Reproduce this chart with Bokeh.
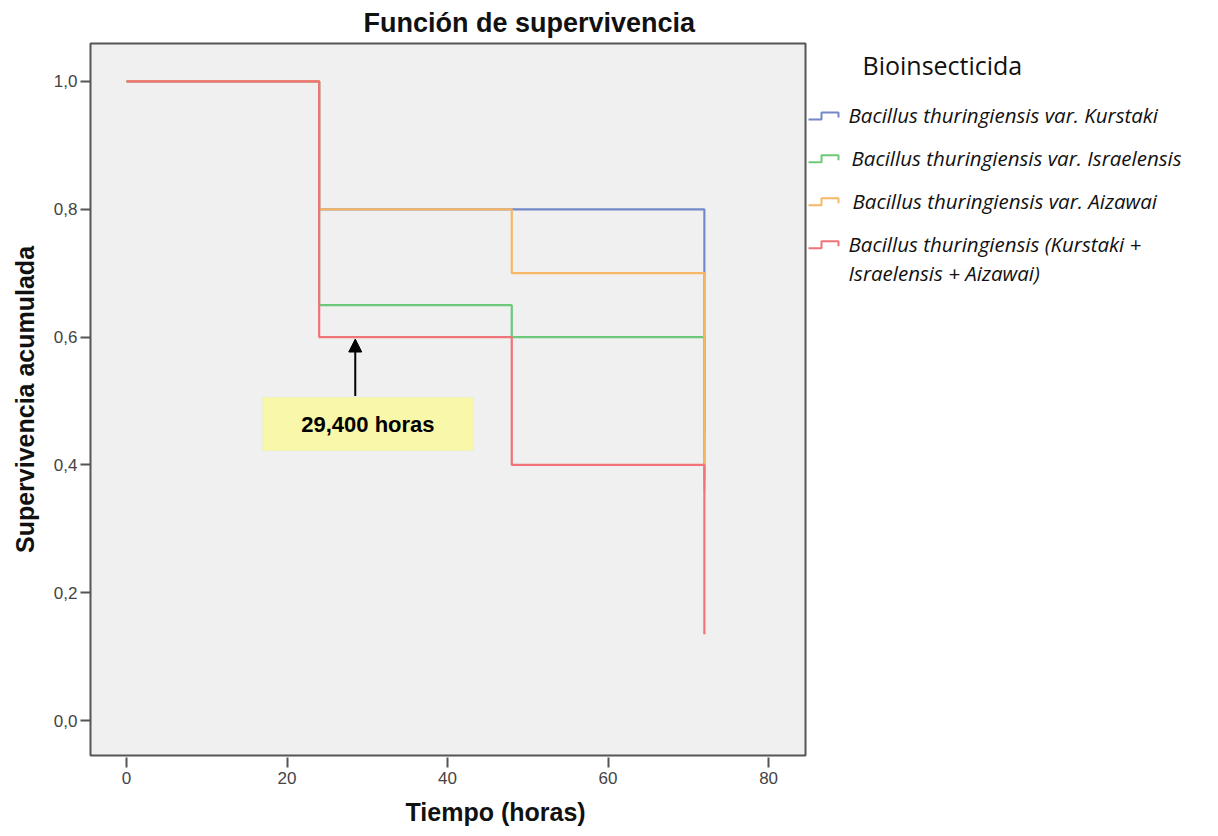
from bokeh.plotting import figure
from bokeh.models import (FixedTicker, Label, Arrow, NormalHead, BoxAnnotation, Range1d, Title)
from bokeh.layouts import row
from bokeh.core.properties import value
from bokeh.embed import file_html
from bokeh.resources import INLINE

# ---- data ----
tiempo = [0, 24, 48, 72]
kurstaki = [1.0, 0.8, 0.8, 0.375]
israelensis = [1.0, 0.65, 0.6, 0.45]
aizawai = [1.0, 0.8, 0.7, 0.36]
combinado = [1.0, 0.6, 0.4, 0.135]

series_names = [
    "Bacillus thuringiensis var. Kurstaki",
    "Bacillus thuringiensis var. Israelensis",
    "Bacillus thuringiensis var. Aizawai",
    "Bacillus thuringiensis (Kurstaki +",
]
series_name_cont = "Israelensis + Aizawai)"
series_values = [kurstaki, israelensis, aizawai, combinado]
series_colors = ["#7388c9", "#6cc97a", "#f6b866", "#ef7378"]
legend_title = "Bioinsecticida"

x_ticks = [0, 20, 40, 60, 80]
y_ticks = [0.0, 0.2, 0.4, 0.6, 0.8, 1.0]
y_tick_labels = ["0,0", "0,2", "0,4", "0,6", "0,8", "1,0"]

media_texto = "29,400 horas"
media_x = 28.5
flecha_y0, flecha_y1 = 0.508, 0.597
caja = dict(left=16.95, right=43.2, bottom=0.422, top=0.506)

# ---- main figure ----
p = figure(width=808, height=836, output_backend="svg", toolbar_location=None,
           x_range=Range1d(-4.49, 84.6), y_range=Range1d(-0.0547, 1.0594),
           min_border_left=90, min_border_right=3, min_border_top=42,
           min_border_bottom=81, title="Función de supervivencia")
p.background_fill_color = "#f0f0f0"
p.border_fill_color = "white"
p.outline_line_color = "#555555"
p.outline_line_width = 2
p.grid.visible = False

p.title.align = "left"
p.title.offset = 273
p.title.text_font = "Liberation Sans"
p.title.text_font_size = "27px"
p.title.text_font_style = "bold"
p.title.text_color = "#111111"
p.title.standoff = 11

xa = p.xaxis[0]
xa.ticker = FixedTicker(ticks=x_ticks)
xa.axis_line_color = None
xa.major_tick_in = -2
xa.major_tick_out = 12
xa.major_tick_line_width = 2
xa.major_tick_line_color = "#555555"
xa.minor_tick_line_color = None
xa.major_label_standoff = 4
xa.major_label_text_font = "Liberation Sans"
xa.major_label_text_font_size = "17px"
xa.major_label_text_color = "#444444"

ya = p.yaxis[0]
ya.ticker = FixedTicker(ticks=y_ticks)
ya.major_label_overrides = {t: l for t, l in zip(y_ticks, y_tick_labels)}
ya.axis_line_color = None
ya.major_tick_in = 0
ya.major_tick_out = 10
ya.major_tick_line_width = 2
ya.major_tick_line_color = "#555555"
ya.minor_tick_line_color = None
ya.major_label_standoff = 3
ya.major_label_text_font = "Liberation Sans"
ya.major_label_text_font_size = "17px"
ya.major_label_text_color = "#444444"
ya.axis_label = "Supervivencia acumulada"
ya.axis_label_text_font = "Liberation Sans"
ya.axis_label_text_font_size = "25px"
ya.axis_label_text_font_style = "bold"
ya.axis_label_text_color = "#111111"
ya.axis_label_standoff = 12

p.add_layout(Title(text="Tiempo (horas)", align="left", offset=315,
                   text_font="Liberation Sans", text_font_size="25px",
                   text_font_style="bold", text_color="#111111", standoff=18), "below")

for vals, col in zip(series_values, series_colors):
    p.step(tiempo, vals, mode="after", line_color=col, line_width=2.2)

p.add_layout(BoxAnnotation(fill_color="#f9f7a9", fill_alpha=1.0,
                           line_color="#e4e3c4", line_width=1, **caja))
p.add_layout(Arrow(end=NormalHead(size=13, fill_color="black", line_color="black"),
                   x_start=media_x, y_start=flecha_y0, x_end=media_x, y_end=flecha_y1,
                   line_width=2, line_color="black"))
p.add_layout(Label(x=(caja["left"] + caja["right"]) / 2, y=(caja["bottom"] + caja["top"]) / 2,
                   text=media_texto, text_align="center", text_baseline="middle",
                   text_font="Liberation Sans", text_font_size="22px",
                   text_font_style="bold", text_color="black"))

# ---- legend panel (pixel-like coordinates, y downwards; frame aligned with main frame) ----
lg = figure(width=410, height=836, output_backend="svg", toolbar_location=None,
            x_range=Range1d(0, 410), y_range=Range1d(755, 42),
            x_axis_type=None, y_axis_type=None, min_border=0)
lg.outline_line_color = None
lg.grid.visible = False
lg.background_fill_color = "white"

item_y = [114, 157, 200, 243]
icon_xs, icon_ys = [], []
for yy in item_y:
    icon_xs.append([-3, 13, 13, 30, 30])
    icon_ys.append([yy + 4, yy + 4, yy - 3, yy - 3, yy + 2])
lg.multi_line(icon_xs, icon_ys, line_color=series_colors, line_width=2)

lg.text(x=[54], y=[64], text=[legend_title], text_font=value("Open Sans"),
        text_font_size="25px", text_color="#111111", text_baseline="middle")
lg.text(x=[40, 43, 44, 40, 40], y=item_y + [272], text=series_names + [series_name_cont],
        text_font=value("Open Sans"), text_font_size="20.5px", text_font_style="italic",
        text_color="#111111", text_baseline="middle")

open("out.html", "w").write(file_html(row(p, lg), INLINE))
